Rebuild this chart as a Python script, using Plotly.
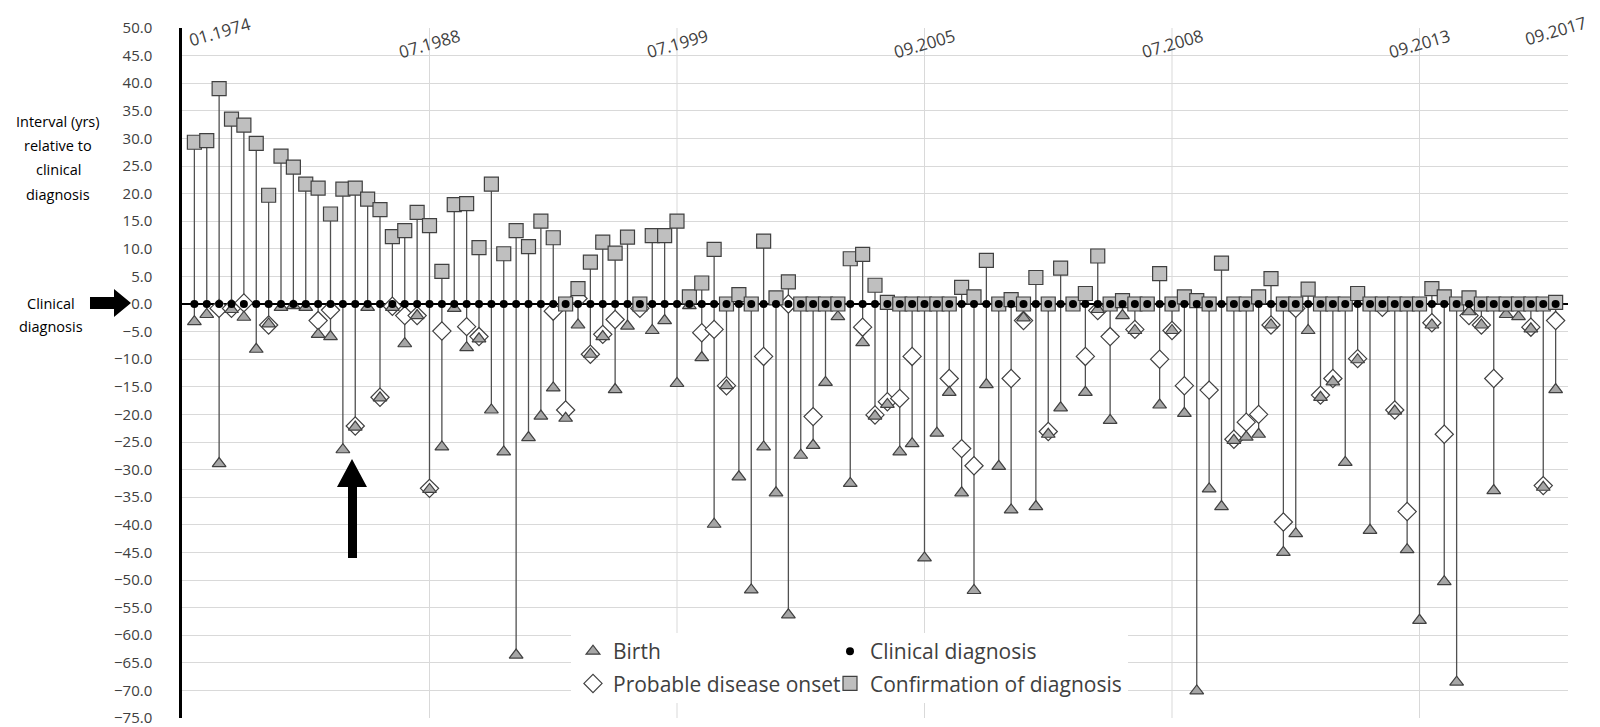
import plotly.graph_objects as go

# ---------------- data (years relative to clinical diagnosis) ----------------
birth = [-3.2, -1.9, -28.9, -1.0, -2.4, -8.2, -3.6, -0.6, -0.3, -0.6,
         -5.5, -5.9, -26.4, -22.3, -0.6, -17.0, -0.6, -7.2, -2.1, -33.6,
         -25.9, -0.8, -7.9, -6.3, -19.2, -26.8, -63.6, -24.2, -20.3, -15.2,
         -20.7, -3.8, -9.1, -5.9, -15.5, -4.0, -0.5, -4.8, -3.0, -14.4,
         -0.3, -9.7, -39.9, -14.8, -31.3, -51.8, -25.9, -34.2, -56.3, -27.4,
         -25.6, -14.2, -2.3, -32.5, -7.0, -20.3, -18.2, -26.8, -25.3, -46.0,
         -23.4, -16.0, -34.2, -51.9, -14.6, -29.4, -37.3, -2.5, -36.7, -23.6,
         -18.8, -0.3, -16.0, -1.0, -21.1, -2.1, -4.8, -0.3, -18.3, -4.8,
         -19.8, -70.1, -33.5, -36.7, -24.7, -24.1, -23.6, -3.8, -45.0, -41.6,
         -4.8, -16.9, -14.1, -28.7, -10.1, -41.0, -0.6, -19.4, -44.5, -57.3,
         -3.8, -50.3, -68.5, -1.4, -3.8, -33.8, -1.9, -2.3, -4.5, -33.2,
         -15.5]
onset = [None, None, -0.8, -0.8, 0.2, None, -3.8, None, None, None,
         -3.0, -1.1, None, -22.1, None, -16.9, -0.4, -2.1, -2.1, -33.4,
         -4.9, None, -4.1, -5.9, None, None, None, None, None, -1.3,
         -19.2, 1.0, -9.1, -5.5, -2.8, None, -0.8, None, None, None,
         None, -5.2, -4.6, -14.8, None, None, -9.5, None, 0.0, None,
         -20.4, None, None, None, -4.2, -20.1, -17.7, -17.1, -9.5, None,
         None, -13.5, -26.2, -29.3, None, None, -13.5, -3.0, None, -23.1,
         None, None, -9.5, -1.2, -5.9, None, -4.6, None, -10.0, -4.8,
         -14.8, None, -15.6, None, -24.5, -21.4, -20.0, -3.8, -39.5, -0.8,
         None, -16.5, -13.5, None, -9.9, None, -0.6, -19.2, -37.6, None,
         -3.4, -23.6, None, -2.1, -3.8, -13.5, None, None, -4.2, -32.9,
         -3.0]
confirmation = [29.3, 29.6, 39.0, 33.5, 32.4, 29.1, 19.7, 26.8, 24.8, 21.7,
                21.0, 16.3, 20.8, 21.0, 19.0, 17.1, 12.2, 13.3, 16.6, 14.2,
                5.9, 18.0, 18.2, 10.2, 21.7, 9.1, 13.3, 10.4, 15.0, 12.0,
                0.0, 2.8, 7.6, 11.2, 9.2, 12.1, 0.0, 12.4, 12.4, 15.0,
                1.3, 3.8, 9.9, 0.0, 1.7, 0.0, 11.4, 1.1, 4.0, 0.0,
                0.0, 0.0, 0.0, 8.2, 9.0, 3.4, 0.3, 0.0, 0.0, 0.0,
                0.0, 0.0, 3.0, 1.3, 7.9, 0.0, 0.8, 0.0, 4.8, 0.0,
                6.5, 0.0, 1.9, 8.7, 0.0, 0.6, 0.0, 0.0, 5.5, 0.0,
                1.3, 0.6, 0.0, 7.4, 0.0, 0.0, 1.3, 4.6, 0.0, 0.0,
                2.7, 0.0, 0.0, 0.0, 1.9, 0.0, 0.0, 0.0, 0.0, 0.0,
                2.8, 1.3, 0.0, 1.1, 0.0, 0.0, 0.0, 0.0, 0.0, 0.0,
                0.3]
clinical = [0.0] * len(birth)  # clinical diagnosis is the reference (0)
patients = list(range(len(birth)))

tick_index = [0, 19, 39, 59, 79, 99, 110]
tick_text = ["01.1974", "07.1988", "07.1999", "09.2005", "07.2008", "09.2013", "09.2017"]

y_ticks = list(range(-75, 55, 5))

# ---------------- layout geometry ----------------
OFF = 8                      # default page body margin
W, H = 1600 - OFF, 727 - OFF
ML, MR, MT, MB = 174, 32, 20, 9
PW, PH = W - ML - MR, H - MT - MB


def px(X):
    """page pixel x -> paper fraction"""
    return (X - OFF - ML) / PW


def py(Y):
    """page pixel y -> paper fraction"""
    return (H - MB - (Y - OFF)) / PH


FONT = "'Open Sans', Lato, sans-serif"
TXT = "#404040"

fig = go.Figure()

# vertical connector lines per patient
lx, ly = [], []
for i in patients:
    vals = [v for v in (birth[i], onset[i], clinical[i], confirmation[i]) if v is not None]
    lx += [i, i, None]
    ly += [min(vals), max(vals), None]
fig.add_trace(go.Scatter(x=lx, y=ly, mode="lines", line=dict(color="#505050", width=1.3),
                         hoverinfo="skip", showlegend=False))

fig.add_trace(go.Scatter(
    x=patients, y=onset, mode="markers", name="Probable disease onset",
    marker=dict(symbol="diamond", size=14, color="white", line=dict(color="#404040", width=1.2)),
    legend="legend", legendrank=2, legendgroup="o"))
fig.add_trace(go.Scatter(
    x=patients, y=birth, mode="markers", name="Birth",
    marker=dict(symbol="triangle-up", size=12, color="#a6a6a6", line=dict(color="#404040", width=1.2)),
    legend="legend", legendrank=1, legendgroup="b"))
fig.add_trace(go.Scatter(
    x=patients, y=confirmation, mode="markers", name="Confirmation of diagnosis",
    marker=dict(symbol="square", size=14, color="#bfbfbf", line=dict(color="#404040", width=1.2)),
    legend="legend2", legendrank=2, legendgroup="c"))
fig.add_trace(go.Scatter(
    x=patients, y=clinical, mode="markers", name="Clinical diagnosis",
    marker=dict(symbol="circle", size=8, color="black"),
    legend="legend2", legendrank=1, legendgroup="d"))

# vertical gridlines at labelled dates (interior ones)
shapes = []
for t in tick_index[1:-1]:
    shapes.append(dict(type="line", xref="x", yref="paper", x0=t, x1=t, y0=0, y1=1,
                       line=dict(color="#d9d9d9", width=1), layer="below"))

# white panel behind the legend (hides gridlines there)
shapes.append(dict(type="rect", xref="paper", yref="paper", x0=px(571), x1=px(1128),
                   y0=py(703), y1=py(633), fillcolor="white", line=dict(width=0), layer="above"))


def poly(points):
    return "M " + " L ".join(f"{px(a):.5f},{py(b):.5f}" for a, b in points) + " Z"


# left arrow (pointing right)
shapes.append(dict(type="path", xref="paper", yref="paper", fillcolor="black", line=dict(width=0),
                   path=poly([(90, 297), (114, 297), (114, 289), (131, 303), (114, 317),
                              (114, 309), (90, 309)])))
# up arrow
shapes.append(dict(type="path", xref="paper", yref="paper", fillcolor="black", line=dict(width=0),
                   path=poly([(348, 558), (348, 487), (337, 487), (352, 459), (367, 487),
                              (357, 487), (357, 558)])))

annotations = []
# top date labels
for k, (t, s) in enumerate(zip(tick_index, tick_text)):
    base = dict(xref="x", yref="y", text=s, showarrow=False, textangle=-16,
                font=dict(family=FONT, size=17, color=TXT))
    if k == 0:
        base.update(x=-1, y=50, xanchor="left", yanchor="middle", xshift=2, yshift=-3)
    elif k == len(tick_index) - 1:
        base.update(x=t, y=50, xanchor="center", yanchor="middle", yshift=-2)
    else:
        base.update(x=t, y=50, xanchor="center", yanchor="top", yshift=7)
    annotations.append(base)

left_lines = ["Interval (yrs)", "relative to", "clinical", "diagnosis"]
for j, s in enumerate(left_lines):
    annotations.append(dict(x=px(58), y=py(121 + 24.5 * j), xref="paper", yref="paper", text=s,
                            showarrow=False, xanchor="center", yanchor="middle",
                            font=dict(family=FONT, size=14.5, color="black")))
for j, s in enumerate(["Clinical", "diagnosis"]):
    annotations.append(dict(x=px(51), y=py(303 + 23.5 * j), xref="paper", yref="paper", text=s,
                            showarrow=False, xanchor="center", yanchor="middle",
                            font=dict(family=FONT, size=14.5, color="black")))

fig.update_layout(
    width=W, height=H,
    margin=dict(l=ML, r=MR, t=MT, b=MB, autoexpand=False),
    paper_bgcolor="white", plot_bgcolor="white",
    font=dict(family=FONT, color=TXT),
    xaxis=dict(range=[-1, 111], showgrid=False, zeroline=False, showticklabels=False,
               showline=False, ticks="", automargin=False),
    yaxis=dict(range=[-75, 50], tickvals=y_ticks, tickformat=".1f", automargin=False,
               showgrid=True, gridcolor="#d9d9d9", gridwidth=1,
               zeroline=True, zerolinecolor="black", zerolinewidth=1.5,
               showline=True, linecolor="black", linewidth=2.5, ticklabeloverflow="allow",
               ticks="", ticklabelstandoff=24, tickfont=dict(family=FONT, size=15, color=TXT)),
    legend=dict(x=px(573), y=py(631), xanchor="left", yanchor="top", bgcolor="rgba(0,0,0,0)",
                font=dict(family=FONT, size=21, color=TXT), tracegroupgap=2,
                itemwidth=30, orientation="v"),
    legend2=dict(x=px(830), y=py(631), xanchor="left", yanchor="top", bgcolor="rgba(0,0,0,0)",
                 font=dict(family=FONT, size=21, color=TXT), tracegroupgap=2,
                 itemwidth=30, orientation="v"),
    shapes=shapes,
    annotations=annotations,
)

fig.write_html("out.html")
